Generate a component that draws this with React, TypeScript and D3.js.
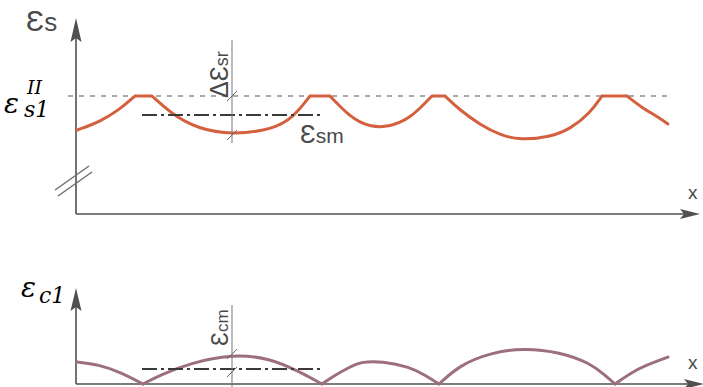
import React from "react";
import * as d3 from "d3";

// ---------- DATA ----------
// steel strain (top panel), x = position along member, y = strain level (100 = eps_s1^II)
const steelStart: [number, number][] = [[1, 82.1], [24, 86.5], [44, 93], [59, 100]];
const steelTrough1: [number, number][] = [[76, 100], [97, 90], [121, 83], [156, 79.5], [197, 82.5], [217, 88.5], [234, 100]];
const steelTrough2: [number, number][] = [[254, 100], [264, 94.5], [274, 89.5], [284, 86.2], [294, 84.3], [304, 83.7], [314, 84.3], [324, 86], [334, 89], [344, 93.5], [356, 100]];
const steelTrough3: [number, number][] = [[369, 100], [384, 92.5], [404, 85], [424, 79.5], [444, 76.8], [474, 78.5], [494, 82.5], [514, 91], [526, 100]];
const steelEnd: [number, number][] = [[551, 100], [567, 93.5], [581, 89.3], [592, 85.3]];
const steelPlateaus: [number, number][] = [[59, 76], [234, 254], [356, 369], [526, 551]];

// concrete strain (bottom panel)
const concStart: [number, number][] = [[1, 9.6], [24, 8.3], [44, 5.2], [67, 0]];
const concArch1: [number, number][] = [[67, 0], [84, 3.9], [114, 9.1], [156, 13], [194, 11.3], [224, 5.2], [246, 0]];
const concArch2: [number, number][] = [[246, 0], [259, 3.9], [274, 7.4], [284, 9.6], [306, 10], [334, 7.4], [349, 3.9], [363, 0]];
const concArch3: [number, number][] = [[363, 0], [384, 8.3], [414, 13.5], [447, 15.7], [484, 13.9], [514, 9.1], [529, 3.9], [539, 0]];
const concEnd: [number, number][] = [[539, 0], [559, 6.1], [579, 9.6], [592, 11.7]];

const epsS1 = 100;       // dashed level
const epsSm = 90;        // mean steel strain
const epsCm = 6.5;       // mean concrete strain
const meanRange: [number, number] = [66, 246];
const markX = 156;       // annotation line position
const steelMin1 = 79.5;
const concPeak1 = 13;

// ---------- SCALES ----------
const W = 703, H = 387;
const x = d3.scaleLinear().domain([0, 624]).range([76, 700]);
const yTop = d3.scaleLinear().domain([38, 100]).range([214, 96]);
const yBot = d3.scaleLinear().domain([0, 40]).range([384, 292]);

const steelColor = "#d4603f";
const concColor = "#9c6f7d";
const axisColor = "#505050";
const sans = "Liberation Sans, DejaVu Sans, sans-serif";
const serif = "DejaVu Serif, Liberation Serif, serif";

export default function App() {
  const lineTop = d3.line<[number, number]>().x(d => x(d[0])).y(d => yTop(d[1])).curve(d3.curveBasis);
  const lineBot = d3.line<[number, number]>().x(d => x(d[0])).y(d => yBot(d[1])).curve(d3.curveBasis);
  const steelSegs = [steelStart, steelTrough1, steelTrough2, steelTrough3, steelEnd];
  const concSegs = [concStart, concArch1, concArch2, concArch3, concEnd];

  const ax0 = x(0);
  const topAxisY = yTop(38);
  const botAxisY = yBot(0);
  const mx = x(markX);

  const tick = (cx: number, cy: number, k: string) => (
    <line key={k} x1={cx - 5} y1={cy + 5} x2={cx + 5} y2={cy - 5} stroke="#666" strokeWidth={1} />
  );

  return (
    <svg width={W} height={H} style={{ position: "absolute", left: 0, top: 0, background: "#fff" }}>
      {/* ===== TOP PANEL ===== */}
      <line x1={68} x2={670} y1={yTop(epsS1)} y2={yTop(epsS1)} stroke="#8c8c8c" strokeWidth={1.5} strokeDasharray="5 6" />
      <line x1={ax0} x2={ax0} y1={36} y2={topAxisY} stroke={axisColor} strokeWidth={1.6} />
      <path d={`M${ax0},18 L${ax0 - 5.5},42 L${ax0},38 L${ax0 + 5.5},42 Z`} fill={axisColor} />
      <line x1={ax0} x2={686} y1={topAxisY} y2={topAxisY} stroke={axisColor} strokeWidth={1.6} />
      <path d={`M700,${topAxisY} L680,${topAxisY - 5} L684,${topAxisY} L680,${topAxisY + 5} Z`} fill={axisColor} />
      <line x1={55} y1={190} x2={89} y2={166} stroke="#707070" strokeWidth={1.5} />
      <line x1={58} y1={196} x2={92} y2={172} stroke="#707070" strokeWidth={1.5} />
      {steelSegs.map((s, i) => (
        <path key={"s" + i} d={lineTop(s) || ""} fill="none" stroke={steelColor} strokeWidth={3} strokeLinecap="round" />
      ))}
      {steelPlateaus.map((p, i) => (
        <line key={"p" + i} x1={x(p[0])} x2={x(p[1])} y1={yTop(epsS1)} y2={yTop(epsS1)} stroke={steelColor} strokeWidth={3} />
      ))}
      <line x1={x(meanRange[0])} x2={x(meanRange[1])} y1={yTop(epsSm)} y2={yTop(epsSm)} stroke="#3a3a3a" strokeWidth={2} strokeDasharray="15 4 3 4" />
      <line x1={mx} x2={mx} y1={40} y2={143} stroke="#777" strokeWidth={1} />
      {tick(mx, yTop(epsS1), "t1")}
      {tick(mx, yTop(steelMin1), "t2")}
      <text transform={`translate(${mx - 4},98) rotate(-90)`} fontFamily={sans} fontSize={25} fill="#4a4a4a">
        ΔƐ<tspan fontSize={18}>sr</tspan>
      </text>
      <text x={300} y={143} fontFamily={sans} fontSize={26} fill="#4a4a4a">
        Ɛ<tspan fontSize={21}>sm</tspan>
      </text>
      <text x={26} y={31} fontFamily={sans} fontSize={30} fill="#4a4a4a">
        Ɛ<tspan fontSize={26}>s</tspan>
      </text>
      <text x={688} y={199} fontFamily={sans} fontSize={19} fill="#4a4a4a">x</text>
      <g fontFamily={serif} fontStyle="italic" fill="#000">
        <text x={4} y={113} fontSize={28}>ε</text>
        <text x={27} y={94} fontSize={19}>II</text>
        <text x={24} y={117} fontSize={22}>s1</text>
      </g>

      {/* ===== BOTTOM PANEL ===== */}
      <line x1={ax0} x2={ax0} y1={306} y2={botAxisY} stroke={axisColor} strokeWidth={1.6} />
      <path d={`M${ax0},288 L${ax0 - 5.5},311 L${ax0},307 L${ax0 + 5.5},311 Z`} fill={axisColor} />
      <line x1={ax0} x2={690} y1={botAxisY} y2={botAxisY} stroke={axisColor} strokeWidth={1.6} />
      <path d={`M704,${botAxisY} L684,${botAxisY - 5} L688,${botAxisY} L684,${botAxisY + 5} Z`} fill={axisColor} />
      {concSegs.map((s, i) => (
        <path key={"c" + i} d={lineBot(s) || ""} fill="none" stroke={concColor} strokeWidth={3} strokeLinecap="round" />
      ))}
      <line x1={x(meanRange[0])} x2={x(meanRange[1])} y1={yBot(epsCm)} y2={yBot(epsCm)} stroke="#3a3a3a" strokeWidth={2} strokeDasharray="15 4 3 4" />
      <line x1={mx} x2={mx} y1={305} y2={387} stroke="#777" strokeWidth={1} />
      {tick(mx, yBot(concPeak1), "t3")}
      {tick(mx, yBot(epsCm) + 3, "t4")}
      <text transform={`translate(${mx - 4},346) rotate(-90)`} fontFamily={sans} fontSize={23} fill="#4a4a4a">
        Ɛ<tspan fontSize={17}>cm</tspan>
      </text>
      <text x={688} y={369} fontFamily={sans} fontSize={19} fill="#4a4a4a">x</text>
      <g fontFamily={serif} fontStyle="italic" fill="#000">
        <text x={21} y={297} fontSize={28}>ε</text>
        <text x={39} y={303} fontSize={22}>c1</text>
      </g>
    </svg>
  );
}
